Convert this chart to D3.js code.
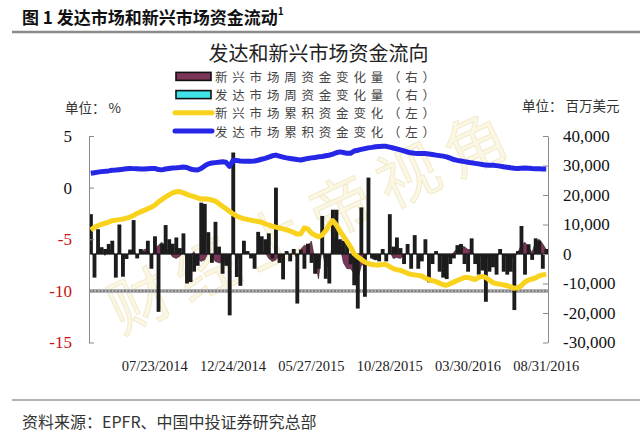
<!DOCTYPE html>
<html><head><meta charset="utf-8">
<script src="https://cdn.jsdelivr.net/npm/d3@7"></script>
<style>body{margin:0;background:#fff}svg{display:block}</style>
</head><body>
<script>
// ---------- data ----------
const startDate = "2014-03-19";
const tickLabels = ["07/23/2014","12/24/2014","05/27/2015","10/28/2015","03/30/2016","08/31/2016"];
// 发达市场周资金变化量 (百万美元, right axis)
const devWeekly = [13500,-8000,8400,2300,1700,3400,4500,-8000,10000,-7700,
-1700,1500,11500,-1500,1700,800,4500,-5000,6000,-19600,
3500,9800,5000,3500,5600,2000,7000,-10000,-9500,-6000,
-4000,17400,17000,7400,-3000,10900,2500,-6700,-4000,-20800,
34400,-7800,-10800,4500,1000,-1500,-5000,7500,6000,5000,
7000,-1500,22500,-3000,-8600,1000,-2500,1700,-16800,1500,
-5000,3500,-3000,-6700,-5000,12900,-8400,-10000,15000,15000,
5000,4500,4000,-3500,-10600,-18500,15800,-14500,25900,-1500,
-2000,-2500,1700,-2500,13500,2500,5600,2000,-3400,3400,
-5000,6400,-5000,-2500,5000,-9600,-3400,1000,-6000,-8000,
-8500,-3400,-1500,3000,3400,-3400,-6000,5300,-3400,-7000,
-5600,-16200,-6000,-4500,-7000,1700,-6000,-7000,-6000,-19000,
1000,9500,-7000,3300,-2000,5300,4500,-5000,1700];
// 新兴市场周资金变化量 (百万美元, right axis)
const emWeekly = [800,-1000,1500,1000,-500,1200,1500,-800,1000,-1200,
-600,500,1800,-1000,600,1500,1800,-800,1500,3000,
4000,2000,800,-1000,-1500,-800,500,-1200,-500,800,
-1500,-2500,-2000,500,-1000,-2500,-3000,-3000,-2500,-1500,
1000,-1500,-1000,800,500,-600,-1000,1200,1000,600,
-1500,-2500,-2000,-500,-1200,800,-500,600,-1500,1500,
3000,2500,4400,-2000,-8400,2000,-5000,-3500,4000,6200,
3000,-3000,-5000,-5000,-6500,-9000,-4000,-3000,1500,-1500,
-2000,-1000,800,-800,1000,-1500,-1200,-1500,-500,500,
-800,1000,-500,-800,600,-1000,-500,500,-600,-1000,
-1200,-800,500,2000,2800,2500,1500,1500,-800,-1000,
-600,-1500,-1000,-600,-1200,500,-800,-600,-1000,-1200,
500,3000,4000,2500,500,4000,5000,3500,1500];
// 发达市场累积资金变化 (%, left axis)
const devCum = [1.4,1.45,1.5,1.55,1.58,1.62,1.68,1.7,1.74,1.78,
1.83,1.86,1.84,1.82,1.8,1.8,1.83,1.85,1.86,1.75,
1.72,1.8,1.86,1.9,1.92,1.95,2.0,1.95,1.8,1.72,
1.7,1.85,2.1,2.3,2.38,2.42,2.46,2.5,2.45,2.05,
2.65,2.62,2.58,2.55,2.55,2.55,2.58,2.65,2.75,2.83,
2.95,3.08,3.15,3.05,2.95,2.88,2.83,2.78,2.72,2.67,
2.75,2.83,2.88,2.92,2.98,3.02,3.08,3.14,3.25,3.38,
3.46,3.4,3.32,3.32,3.55,3.62,3.7,3.78,3.85,3.9,
3.96,3.98,4.0,4.0,3.92,3.84,3.75,3.65,3.55,3.45,
3.37,3.32,3.3,3.3,3.3,3.25,3.2,3.15,3.1,3.05,
2.98,2.85,2.72,2.64,2.58,2.52,2.46,2.4,2.35,2.3,
2.24,2.18,2.17,2.16,2.13,2.08,2.02,1.98,1.92,1.87,
1.85,1.88,1.9,1.88,1.85,1.84,1.82,1.8,1.8];
// 新兴市场累积资金变化 (%, left axis)
const emCum = [-4.1,-3.85,-3.7,-3.55,-3.45,-3.35,-3.2,-3.15,-3.1,-3.05,
-2.95,-2.85,-2.7,-2.5,-2.35,-2.2,-2.05,-1.9,-1.7,-1.4,
-1.15,-0.9,-0.7,-0.5,-0.4,-0.38,-0.5,-0.65,-0.78,-0.88,
-1.0,-1.1,-1.08,-1.12,-1.2,-1.3,-1.55,-1.8,-2.05,-2.3,
-2.55,-2.75,-2.9,-3.0,-3.08,-3.15,-3.22,-3.28,-3.35,-3.5,
-3.62,-3.72,-3.82,-3.9,-4.0,-4.1,-4.2,-4.35,-4.5,-4.5,
-3.9,-4.0,-4.4,-4.6,-4.75,-4.6,-4.2,-3.6,-3.2,-3.6,
-4.2,-4.7,-5.2,-5.75,-6.4,-6.7,-6.95,-7.2,-7.35,-7.45,
-7.5,-7.5,-7.45,-7.45,-7.65,-7.85,-7.95,-8.0,-8.15,-8.3,
-8.4,-8.45,-8.5,-8.55,-8.75,-8.9,-9.0,-9.1,-9.25,-9.4,
-9.45,-9.3,-9.15,-9.0,-8.85,-8.7,-8.7,-8.8,-8.9,-8.7,
-8.6,-8.7,-8.95,-9.2,-9.3,-9.35,-9.42,-9.5,-9.62,-9.75,
-9.7,-9.5,-9.15,-8.95,-8.85,-8.75,-8.55,-8.45,-8.4];
const refLine = [-10];
const leftTicks = [5,0,-5,-10,-15];
const rightTicks = [40000,30000,20000,10000,0,-10000,-20000,-30000];
const legendItems = ["新兴市场周资金变化量（右）","发达市场周资金变化量（右）","新兴市场累积资金变化（左）","发达市场累积资金变化（左）"];

// ---------- categories ----------
const fmt = d3.timeFormat("%m/%d/%Y");
const t0 = d3.timeParse("%Y-%m-%d")(startDate);
const categories = devWeekly.map((_, i) => fmt(d3.timeWeek.offset(t0, i)));

// ---------- layout ----------
const W = 640, H = 432;
const L = 89, R = 548, T = 136, B = 342.5;
const CJK = "'Noto Sans CJK SC', sans-serif";
const SERIF = "'Liberation Serif', 'DejaVu Serif', serif";

const svg = d3.select("body").append("svg").attr("width", W).attr("height", H);

const x = d3.scaleBand().domain(categories).range([L, R]).padding(0);
const yL = d3.scaleLinear().domain([-15, 5]).range([B, T]);
const yR = d3.scaleLinear().domain([-30000, 40000]).range([B, T]);
const cx = c => x(c) + x.bandwidth() / 2;

// header
svg.append("text").attr("x", 22).attr("y", 16).attr("dominant-baseline", "central")
  .attr("font-family", CJK).attr("font-weight", 700).attr("font-size", 17).attr("fill", "#111")
  .text("图 1 发达市场和新兴市场资金流动")
  .append("tspan").attr("font-size", 10).attr("dy", -6).text("1");
svg.append("line").attr("x1", 12).attr("x2", 640).attr("y1", 32).attr("y2", 32)
  .attr("stroke", "#8a8a8a").attr("stroke-width", 2.5);

// chart title
svg.append("text").attr("x", (L + R) / 2).attr("y", 52).attr("text-anchor", "middle")
  .attr("dominant-baseline", "central").attr("font-family", CJK).attr("font-size", 20)
  .attr("fill", "#222").text("发达和新兴市场资金流向");

// watermark
svg.append("text").attr("transform", "translate(311,216) rotate(-25)")
  .attr("text-anchor", "middle").attr("dominant-baseline", "central")
  .attr("font-family", CJK).attr("font-size", 62).attr("letter-spacing", 12)
  .attr("fill", "#f7eec6").attr("fill-opacity", 0.45)
  .attr("stroke", "#e6d8a0").attr("stroke-opacity", 0.45).attr("stroke-width", 1)
  .text("财经上帝视角");

// legend
const legRows = [76.4, 94.6, 112.8, 131];
const lg = svg.append("g");
legendItems.forEach((t, i) => {
  const y = legRows[i];
  if (i < 2) {
    lg.append("rect").attr("x", 176).attr("y", y - 4).attr("width", 35).attr("height", 8)
      .attr("fill", i === 0 ? "#7b3558" : "#3fe3e6").attr("stroke", "#111").attr("stroke-width", 1.6);
  } else {
    lg.append("line").attr("x1", 175).attr("x2", 212).attr("y1", y).attr("y2", y)
      .attr("stroke", i === 2 ? "#f8d21c" : "#2626e6").attr("stroke-width", 5).attr("stroke-linecap", "round");
  }
  lg.append("text").attr("x", 215).attr("y", y).attr("dominant-baseline", "central")
    .attr("font-family", CJK).attr("font-size", 12.5).attr("fill", "#444").attr("letter-spacing", 4.8).text(t);
});

// unit labels
svg.append("text").attr("x", 65).attr("y", 107).attr("dominant-baseline", "central")
  .attr("font-family", CJK).attr("font-size", 13.5).attr("fill", "#333").text("单位： %");
svg.append("text").attr("x", 522).attr("y", 105).attr("dominant-baseline", "central")
  .attr("font-family", CJK).attr("font-size", 13.5).attr("fill", "#333").text("单位： 百万美元");

// reference dashed line
svg.append("line").attr("x1", L).attr("x2", R).attr("y1", yL(refLine[0])).attr("y2", yL(refLine[0]))
  .attr("stroke", "#b4b4b4").attr("stroke-width", 4);
svg.append("line").attr("x1", L).attr("x2", R).attr("y1", yL(refLine[0])).attr("y2", yL(refLine[0]))
  .attr("stroke", "#7f7f7f").attr("stroke-width", 2).attr("stroke-dasharray", "2,1.5");

// emerging weekly area
const area = d3.area().x((d, i) => cx(categories[i])).y0(yR(0)).y1(d => yR(d));
svg.append("path").datum(emWeekly).attr("d", area)
  .attr("fill", "#7b3558").attr("stroke", "#222").attr("stroke-width", 0.6);

// developed weekly bars
svg.append("g").selectAll("rect").data(devWeekly).join("rect")
  .attr("x", (d, i) => x(categories[i]))
  .attr("width", x.bandwidth() + 0.3)
  .attr("y", d => Math.min(yR(d), yR(0)))
  .attr("height", d => Math.abs(yR(d) - yR(0)))
  .attr("fill", "#1c1c1c");
svg.append("line").attr("x1", L).attr("x2", R).attr("y1", yR(0)).attr("y2", yR(0))
  .attr("stroke", "#1c1c1c").attr("stroke-width", 1);

// cumulative lines
const line = d3.line().x((d, i) => cx(categories[i])).y(d => yL(d));
svg.append("path").datum(emCum).attr("d", line).attr("fill", "none")
  .attr("stroke", "#f8d21c").attr("stroke-width", 5).attr("stroke-linejoin", "round");
svg.append("path").datum(devCum).attr("d", line).attr("fill", "none")
  .attr("stroke", "#2626e6").attr("stroke-width", 5).attr("stroke-linejoin", "round");

// axes
const dash = s => s.replace("\u2212", "-");
const gl = svg.append("g").attr("transform", `translate(${L},0)`)
  .call(d3.axisLeft(yL).tickValues(leftTicks).tickSize(-5).tickSizeOuter(0).tickPadding(17)
    .tickFormat(d => dash(String(d))));
gl.select(".domain").attr("stroke", "#8a8a8a");
gl.selectAll(".tick line").attr("stroke", "#8a8a8a");
gl.selectAll(".tick text").attr("font-family", SERIF).attr("font-size", 17)
  .attr("fill", d => d < 0 ? "#cc1111" : "#111");

const gr = svg.append("g").attr("transform", `translate(${R},0)`)
  .call(d3.axisRight(yR).tickValues(rightTicks).tickSize(-5).tickSizeOuter(0).tickPadding(15)
    .tickFormat(d => dash(d3.format(",")(d))));
gr.select(".domain").attr("stroke", "#8a8a8a");
gr.selectAll(".tick line").attr("stroke", "#8a8a8a");
gr.selectAll(".tick text").attr("font-family", SERIF).attr("font-size", 17).attr("fill", "#111");

// x tick labels
svg.append("g").selectAll("text").data(tickLabels).join("text")
  .attr("x", d => cx(d)).attr("y", 366).attr("text-anchor", "middle").attr("dominant-baseline", "central")
  .attr("font-family", SERIF).attr("font-size", 14.5).attr("fill", "#222").text(d => d);

// footer
svg.append("line").attr("x1", 12).attr("x2", 640).attr("y1", 400).attr("y2", 400)
  .attr("stroke", "#999").attr("stroke-width", 1.5);
svg.append("text").attr("x", 22).attr("y", 421).attr("dominant-baseline", "central")
  .attr("font-family", CJK).attr("font-size", 16).attr("fill", "#333").text("资料来源：EPFR、中国中投证券研究总部");
</script>
</body></html>
